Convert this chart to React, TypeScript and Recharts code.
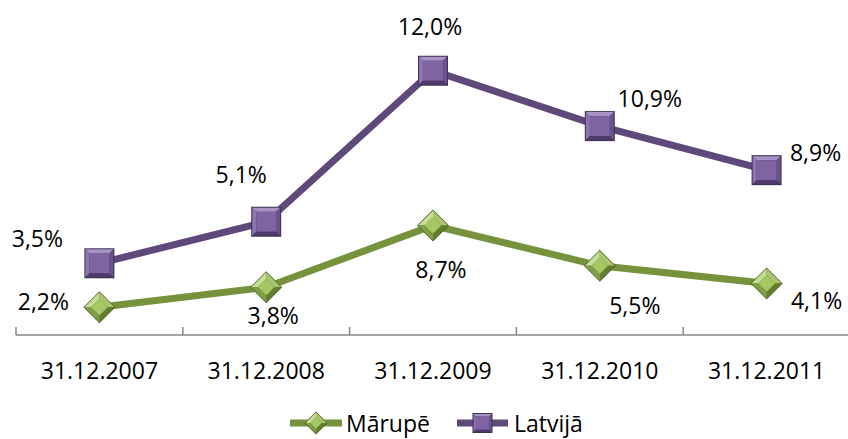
import React from 'react';
import { LineChart, Line, XAxis, YAxis, Legend, LabelList } from 'recharts';

// ---- data ----
const categories = ['31.12.2007', '31.12.2008', '31.12.2009', '31.12.2010', '31.12.2011'];
// plotted heights as they appear in the picture
const marupeValues = [2.2, 3.8, 8.7, 5.5, 4.1];
const latvijaValues = [5.7, 9.0, 21.0, 16.6, 13.1];
// printed data labels
const marupeLabels = ['2,2%', '3,8%', '8,7%', '5,5%', '4,1%'];
const latvijaLabels = ['3,5%', '5,1%', '12,0%', '10,9%', '8,9%'];
const seriesNames = ['Mārupē', 'Latvijā'];

const data = categories.map((c, i) => ({
  cat: c,
  marupe: marupeValues[i],
  latvija: latvijaValues[i],
}));

// ---- style ----
const FONT = '"Open Sans", sans-serif';
const FS = 23;
const PLOT_LEFT = 16;
const CHART_W = 850;
const STEP = (CHART_W - PLOT_LEFT) / categories.length;
const HALF = STEP / 2;

const GREEN_LINE = '#76923C';
const PURPLE_LINE = '#5F497A';

const marupeOffsets = [
  [-56, -6], [7, 28], [8, 43], [35, 39], [50, 17],
];
const latvijaOffsets = [
  [-62, -25], [-25, -48], [-3, -45], [50, -28], [49, -18],
];

function SquareMarker({ cx, cy, s }: { cx: number; cy: number; s: number }) {
  const h = s / 2;
  const b = s * 0.17;
  const x0 = cx - h, x1 = cx + h, y0 = cy - h, y1 = cy + h;
  const ix0 = x0 + b, ix1 = x1 - b, iy0 = y0 + b, iy1 = y1 - b;
  return (
    <g>
      <rect x={x0} y={y0} width={s} height={s} fill="#3F3151" />
      <polygon points={`${x0 + 1},${y0 + 1} ${x1 - 1},${y0 + 1} ${ix1},${iy0} ${ix0},${iy0}`} fill="#A793C6" />
      <polygon points={`${x0 + 1},${y0 + 1} ${ix0},${iy0} ${ix0},${iy1} ${x0 + 1},${y1 - 1}`} fill="#8D73B2" />
      <polygon points={`${x1 - 1},${y0 + 1} ${x1 - 1},${y1 - 1} ${ix1},${iy1} ${ix1},${iy0}`} fill="#6A5190" />
      <polygon points={`${x0 + 1},${y1 - 1} ${ix0},${iy1} ${ix1},${iy1} ${x1 - 1},${y1 - 1}`} fill="#4E3B6C" />
      <rect x={ix0} y={iy0} width={ix1 - ix0} height={iy1 - iy0} fill="#8064A2" />
    </g>
  );
}

function DiamondMarker({ cx, cy, s }: { cx: number; cy: number; s: number }) {
  const h = s / 2;
  const i = h * 0.55;
  const T = `${cx},${cy - h}`, R = `${cx + h},${cy}`, B = `${cx},${cy + h}`, L = `${cx - h},${cy}`;
  const t = `${cx},${cy - i}`, r = `${cx + i},${cy}`, bb = `${cx},${cy + i}`, l = `${cx - i},${cy}`;
  return (
    <g>
      <polygon points={`${cx},${cy - h - 1} ${cx + h + 1},${cy} ${cx},${cy + h + 1} ${cx - h - 1},${cy}`} fill="#4F6228" />
      <polygon points={`${L} ${T} ${t} ${l}`} fill="#C6DE93" />
      <polygon points={`${T} ${R} ${r} ${t}`} fill="#A9C66C" />
      <polygon points={`${R} ${B} ${bb} ${r}`} fill="#637E2E" />
      <polygon points={`${B} ${L} ${l} ${bb}`} fill="#809E45" />
      <polygon points={`${t} ${r} ${bb} ${l}`} fill="#A5C764" />
    </g>
  );
}

const makeLabel = (labels: string[], offsets: number[][]) => (props: any) => {
  const { x, y, index } = props;
  if (x == null || y == null) return null;
  const [dx, dy] = offsets[index];
  return (
    <text
      key={`lbl-${index}`}
      x={x + dx}
      y={y + dy}
      textAnchor="middle"
      dominantBaseline="central"
      fontFamily={FONT}
      fontSize={FS}
      fill="#000"
    >
      {labels[index]}
    </text>
  );
};

const XTick = (props: any) => {
  const { x, y, payload, index } = props;
  const isLast = index === categories.length - 1;
  return (
    <g>
      <line x1={x - HALF} x2={x - HALF} y1={y} y2={y - 8} stroke="#868686" strokeWidth={1.5} />
      {isLast && <line x1={x + HALF} x2={x + HALF} y1={y} y2={y - 8} stroke="#868686" strokeWidth={1.5} />}
      <text x={x} y={y + 44} textAnchor="middle" fontFamily={FONT} fontSize={FS} fill="#000">
        {payload.value}
      </text>
    </g>
  );
};

const LegendContent = () => (
  <div style={{ display: 'flex', alignItems: 'center', fontFamily: FONT, fontSize: FS, color: '#000', whiteSpace: 'nowrap' }}>
    <svg width={56} height={24} style={{ display: 'block', flex: 'none' }}>
      <line x1={0} x2={52} y1={12} y2={12} stroke={GREEN_LINE} strokeWidth={7} />
      <DiamondMarker cx={26} cy={12} s={21} />
    </svg>
    <span style={{ marginRight: 27 }}>{seriesNames[0]}</span>
    <svg width={57} height={24} style={{ display: 'block', flex: 'none' }}>
      <line x1={0} x2={51} y1={12} y2={12} stroke={PURPLE_LINE} strokeWidth={7} />
      <SquareMarker cx={25.5} cy={12} s={20} />
    </svg>
    <span>{seriesNames[1]}</span>
  </div>
);

export default function App() {
  return (
    <div style={{ position: 'absolute', left: 0, top: 0, width: 848, height: 439, overflow: 'hidden', background: '#fff' }}>
      <LineChart
        width={CHART_W}
        height={439}
        data={data}
        margin={{ top: 33, right: 0, bottom: 64, left: PLOT_LEFT }}
      >
        <XAxis
          dataKey="cat"
          height={40}
          padding={{ left: HALF, right: HALF }}
          axisLine={{ stroke: '#868686', strokeWidth: 1.5 }}
          tickLine={false}
          tickSize={0}
          tickMargin={0}
          tick={<XTick />}
          interval={0}
        />
        <YAxis hide domain={[0, 24]} />
        <Legend
          layout="horizontal"
          verticalAlign="middle"
          align="center"
          content={<LegendContent />}
          wrapperStyle={{ left: 290, top: 407, width: 420 }}
        />
        <Line
          type="linear"
          dataKey="marupe"
          name={seriesNames[0]}
          stroke={GREEN_LINE}
          strokeWidth={7}
          isAnimationActive={false}
          dot={(p: any) => <DiamondMarker key={`d-${p.index}`} cx={p.cx} cy={p.cy} s={30} />}
          activeDot={false}
        >
          <LabelList dataKey="marupe" content={makeLabel(marupeLabels, marupeOffsets)} />
        </Line>
        <Line
          type="linear"
          dataKey="latvija"
          name={seriesNames[1]}
          stroke={PURPLE_LINE}
          strokeWidth={7}
          isAnimationActive={false}
          dot={(p: any) => <SquareMarker key={`s-${p.index}`} cx={p.cx} cy={p.cy} s={30} />}
          activeDot={false}
        >
          <LabelList dataKey="latvija" content={makeLabel(latvijaLabels, latvijaOffsets)} />
        </Line>
      </LineChart>
    </div>
  );
}
